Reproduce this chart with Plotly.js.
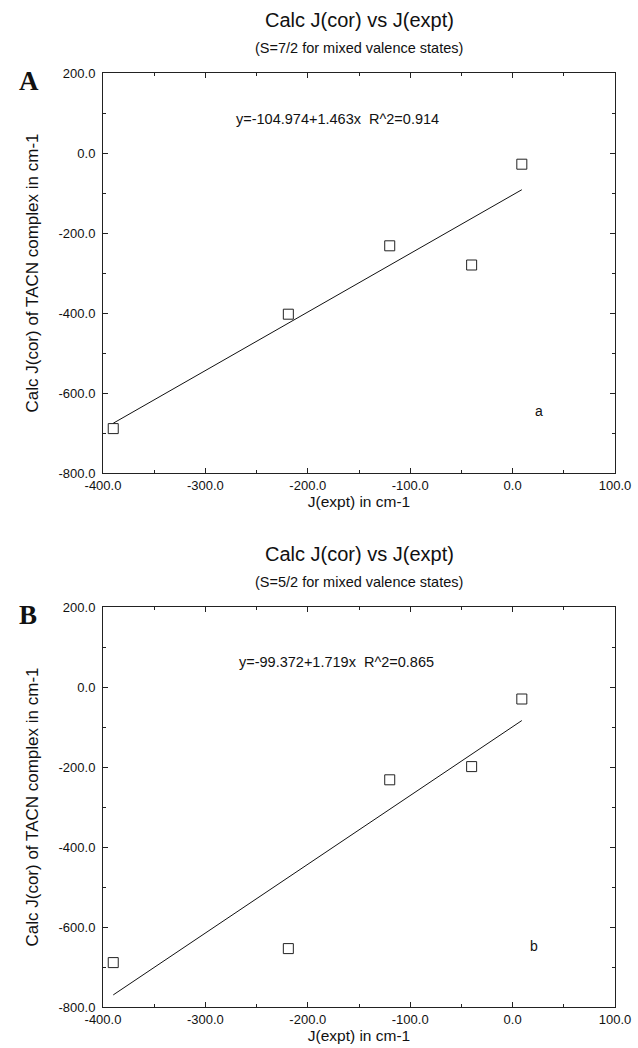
<!DOCTYPE html>
<html>
<head>
<meta charset="utf-8">
<script src="https://cdn.plot.ly/plotly-3.0.1.min.js"></script>
<style>html,body{margin:0;padding:0;background:#fff;}#chart{width:638px;height:1048px;}</style>
</head>
<body>
<div id="chart"></div>
<script>
// Data
const jExpt = [-390, -219, -120, -40, 9];
const jCorA = [-689, -403, -232, -280, -28];
const jCorB = [-689, -654, -232, -199, -30];
const fitA = {intercept: -104.974, slope: 1.463};
const fitB = {intercept: -99.372, slope: 1.719};
const eqA = "y=-104.974+1.463x  R^2=0.914";
const eqB = "y=-99.372+1.719x  R^2=0.865";
const titleText = "Calc J(cor) vs J(expt)";
const subA = "(S=7/2 for mixed valence states)";
const subB = "(S=5/2 for mixed valence states)";
const xTickVals = [-400, -300, -200, -100, 0, 100];
const xTickText = ["-400.0", "-300.0", "-200.0", "-100.0", "0.0", "100.0"];
const xMinor = [-350, -250, -150, -50, 50];
const yTickVals = [-800, -600, -400, -200, 0, 200];
const yTickText = ["-800.0", "-600.0", "-400.0", "-200.0", "0.0", "200.0"];
const yMinor = [-700, -500, -300, -100, 100];

const xmin = Math.min(...jExpt), xmax = Math.max(...jExpt);
function fitLine(f){ return [f.intercept + f.slope*xmin, f.intercept + f.slope*xmax]; }

const F = "Liberation Sans, Arial, sans-serif";
const marker = {symbol: 'square-open', size: 10, color: '#222', line: {width: 1, color: '#222'}};
const traces = [
  {x: jExpt, y: jCorA, mode: 'markers', type: 'scatter', marker: marker, xaxis: 'x', yaxis: 'y', cliponaxis: false},
  {x: [xmin, xmax], y: fitLine(fitA), mode: 'lines', type: 'scatter', line: {color: '#111', width: 1}, xaxis: 'x', yaxis: 'y'},
  {x: jExpt, y: jCorB, mode: 'markers', type: 'scatter', marker: marker, xaxis: 'x2', yaxis: 'y2', cliponaxis: false},
  {x: [xmin, xmax], y: fitLine(fitB), mode: 'lines', type: 'scatter', line: {color: '#111', width: 1}, xaxis: 'x2', yaxis: 'y2'}
];

function xax(anchor){
  return {anchor: anchor, range: [-400, 100], tickmode: 'array', tickvals: xTickVals, ticktext: xTickText,
    ticks: 'inside', ticklen: 5, tickcolor: '#222', showline: true, linecolor: '#222', linewidth: 1, mirror: 'ticks',
    showgrid: false, zeroline: false, tickfont: {family: F, size: 13, color: '#111'},
    minor: {tickvals: xMinor, ticks: 'inside', ticklen: 3, tickcolor: '#222', showgrid: false},
    title: {text: 'J(expt) in cm-1', font: {family: F, size: 15.5, color: '#111'}, standoff: 1}};
}
function yax(anchor, domain){
  return {anchor: anchor, domain: domain, range: [-800, 200], tickmode: 'array', tickvals: yTickVals, ticktext: yTickText,
    ticks: 'inside', ticklen: 5, tickcolor: '#222', showline: true, linecolor: '#222', linewidth: 1, mirror: 'ticks',
    showgrid: false, zeroline: false, tickfont: {family: F, size: 13, color: '#111'}, ticklabelstandoff: 4,
    minor: {tickvals: yMinor, ticks: 'inside', ticklen: 3, tickcolor: '#222', showgrid: false},
    title: {text: 'Calc J(cor) of TACN complex in cm-1', font: {family: F, size: 17, color: '#111'}, standoff: 15}};
}

const topDom = [(1007-473)/934, 1];
const botDom = [0, (1007-607)/934];
const serif = 'Liberation Serif, Times New Roman, serif';

const layout = {
  width: 638, height: 1048, showlegend: false,
  margin: {l: 103, r: 23, t: 73, b: 41},
  paper_bgcolor: '#fff', plot_bgcolor: '#fff',
  xaxis: xax('y'), yaxis: yax('x', topDom),
  xaxis2: xax('y2'), yaxis2: yax('x2', botDom),
  annotations: [
    {text: titleText, xref: 'paper', yref: 'paper', x: 0.5, y: 1, yshift: 53, yanchor: 'middle', showarrow: false, font: {family: F, size: 20, color: '#111'}},
    {text: subA, xref: 'paper', yref: 'paper', x: 0.5, y: 1, yshift: 25, yanchor: 'middle', showarrow: false, font: {family: F, size: 14.5, color: '#111'}},
    {text: 'A', xref: 'paper', yref: 'paper', x: 0, y: 1, xshift: -86, yshift: -8, xanchor: 'left', yanchor: 'middle', showarrow: false, font: {family: serif, size: 27, color: '#111', weight: 'bold'}},
    {text: eqA, xref: 'x', yref: 'y', x: -171, y: 85, showarrow: false, font: {family: F, size: 14.5, color: '#111'}},
    {text: 'a', xref: 'x', yref: 'y', x: 26, y: -645, showarrow: false, font: {family: F, size: 14, color: '#111'}},
    {text: titleText, xref: 'paper', yref: 'paper', x: 0.5, y: botDom[1], yshift: 53, yanchor: 'middle', showarrow: false, font: {family: F, size: 20, color: '#111'}},
    {text: subB, xref: 'paper', yref: 'paper', x: 0.5, y: botDom[1], yshift: 25, yanchor: 'middle', showarrow: false, font: {family: F, size: 14.5, color: '#111'}},
    {text: 'B', xref: 'paper', yref: 'paper', x: 0, y: botDom[1], xshift: -86, yshift: -8, xanchor: 'left', yanchor: 'middle', showarrow: false, font: {family: serif, size: 27, color: '#111', weight: 'bold'}},
    {text: eqB, xref: 'x2', yref: 'y2', x: -172, y: 62, showarrow: false, font: {family: F, size: 14.5, color: '#111'}},
    {text: 'b', xref: 'x2', yref: 'y2', x: 21, y: -647, showarrow: false, font: {family: F, size: 14, color: '#111'}}
  ]
};

Plotly.newPlot('chart', traces, layout, {staticPlot: true, displayModeBar: false});
</script>
</body>
</html>
